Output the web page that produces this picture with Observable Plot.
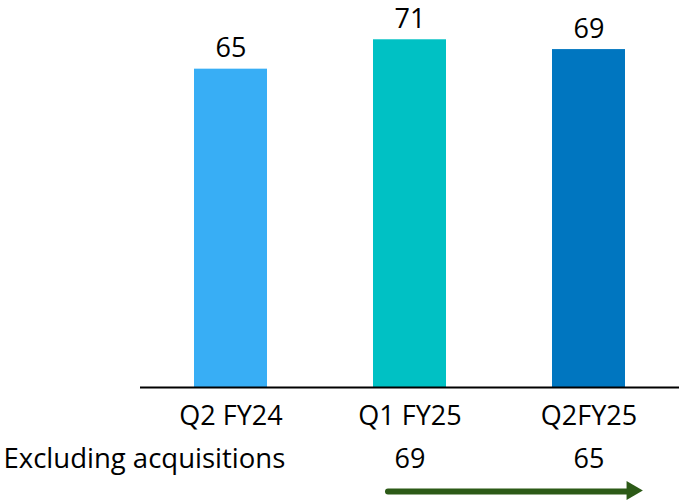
<!DOCTYPE html>
<html>
<head>
<meta charset="utf-8">
<script src="https://cdn.jsdelivr.net/npm/d3@7"></script>
<script src="https://cdn.jsdelivr.net/npm/@observablehq/plot@0.6"></script>
<style>
  html, body { margin: 0; padding: 0; background: #ffffff; }
  #chart svg { display: block; }
</style>
</head>
<body>
<div id="chart"></div>
<script>
const categories = ["Q2 FY24", "Q1 FY25", "Q2FY25"];
const values = [65, 71, 69];
const barColors = ["#38AEF5", "#00C1C4", "#0076C0"];
const exclLabel = "Excluding acquisitions";
const exclCategories = ["Q1 FY25", "Q2FY25"];
const exclValues = [69, 65];

const bars = categories.map((c, i) => ({cat: c, value: values[i], color: barColors[i]}));
const excl = exclCategories.map((c, i) => ({cat: c, value: exclValues[i]}));
const arrowData = [{from: exclCategories[0], to: exclCategories[exclCategories.length - 1]}];

const font = "'Open Sans', 'Noto Sans', sans-serif";
const green = "#2C5A17";

const chart = Plot.plot({
  width: 679,
  height: 501,
  marginTop: 5,
  marginBottom: 114,
  marginLeft: 140,
  marginRight: 0,
  x: {domain: categories, paddingInner: 0.594, paddingOuter: 0.3, axis: null},
  y: {domain: [0, 78], axis: null},
  color: {type: "identity"},
  style: {fontFamily: font, fontSize: "27px", color: "#000", background: "#fff"},
  marks: [
    Plot.barY(bars, {x: "cat", y: "value", fill: "color"}),
    Plot.ruleY([0], {stroke: "#000", strokeWidth: 2}),
    Plot.text(bars, {x: "cat", y: "value", text: d => String(d.value), lineAnchor: "bottom", dy: -12, fontSize: 27, fill: "#000"}),
    Plot.text(bars, {x: "cat", y: () => 0, text: "cat", lineAnchor: "bottom", dy: 37, fontSize: 27, fill: "#000"}),
    Plot.text([exclLabel], {frameAnchor: "bottom-left", text: d => d, textAnchor: "start", lineAnchor: "bottom", dx: -137, dy: 80, fontSize: 27.5, fill: "#000"}),
    Plot.text(excl, {x: "cat", y: () => 0, text: d => String(d.value), lineAnchor: "bottom", dy: 80, fontSize: 27, fill: "#000"}),
    Plot.arrow(arrowData, {x1: "from", x2: "to", y1: () => 0, y2: () => 0, dy: 104, insetStart: -22, insetEnd: -38, headLength: 0, stroke: green, strokeWidth: 6}),
    Plot.dot(arrowData, {x: "to", y: () => 0, dx: 43, dy: 103, symbol: "triangle", r: 7, rotate: 90, fill: green, stroke: "none"})
  ]
});

document.getElementById("chart").appendChild(chart);
</script>
</body>
</html>
